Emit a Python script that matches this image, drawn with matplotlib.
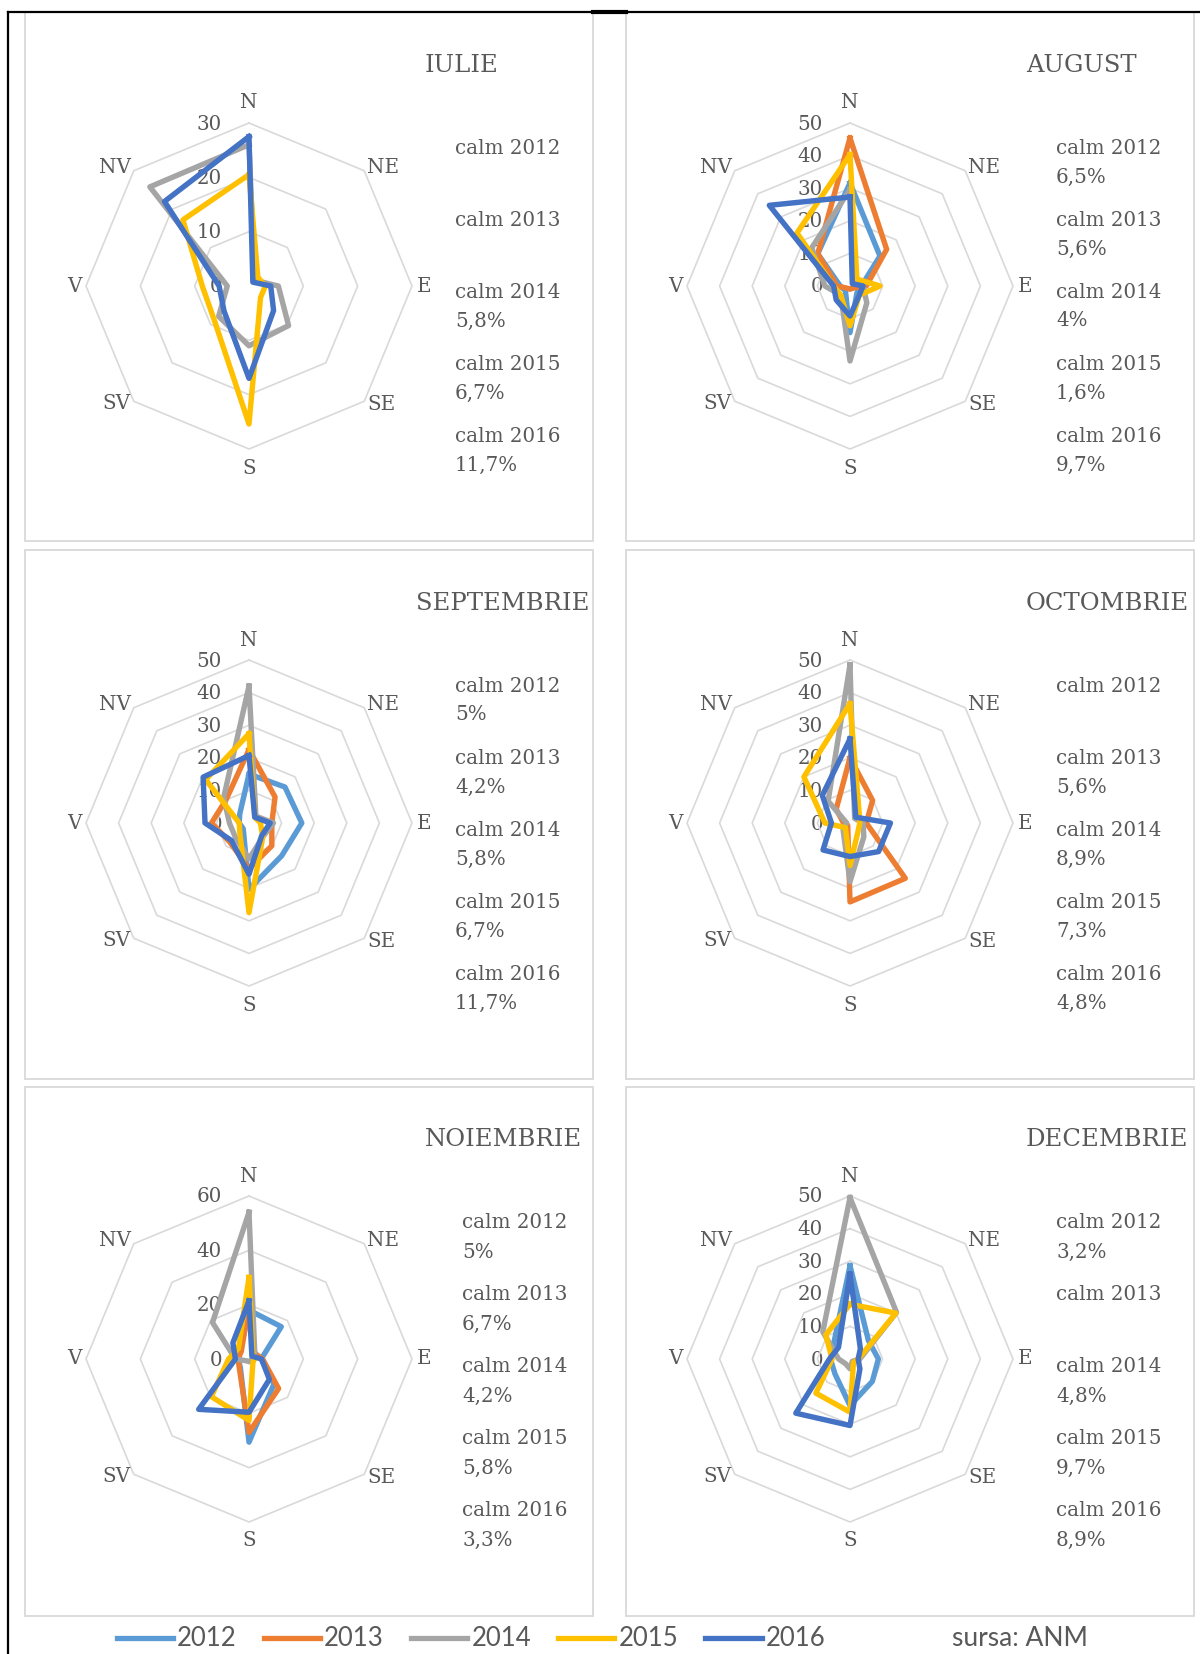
import numpy as np
import matplotlib
matplotlib.use('Agg')
import matplotlib.pyplot as plt
from matplotlib.patches import Rectangle
from matplotlib.lines import Line2D

# ---------------- data ----------------
directions = ['N', 'NE', 'E', 'SE', 'S', 'SV', 'V', 'NV']
years = ['2012', '2013', '2014', '2015', '2016']
colors = ['#5B9BD5', '#ED7D31', '#A5A5A5', '#FFC000', '#4472C4']
months = ['IULIE', 'AUGUST', 'SEPTEMBRIE', 'OCTOMBRIE', 'NOIEMBRIE', 'DECEMBRIE']
axis_max = [30, 50, 50, 50, 60, 50]
axis_step = [10, 10, 10, 10, 20, 10]

# frequencies (%) by direction N, NE, E, SE, S, SV, V, NV ; None = no data
iulie_2012 = None
iulie_2013 = None
iulie_2014 = [26, 1.5, 5.4, 10.3, 11, 7.9, 4, 25.8]
iulie_2015 = [20.5, 2.3, 3, 3, 25.4, 9, 8.6, 17.2]
iulie_2016 = [27.5, 1, 4, 6.4, 17, 6.5, 5.5, 22]

august_2012 = [31.6, 13, 3.5, 3, 14.3, 2, 3, 14]
august_2013 = [45.4, 15.9, 5, 1, 1, 1, 4, 14]
august_2014 = [29.6, 2, 4, 7.3, 23, 4, 7.7, 16.6]
august_2015 = [40.3, 3, 9.2, 4, 12.2, 4, 5, 23]
august_2016 = [27.3, 1, 4, 4, 9.2, 6, 5, 35]

septembrie_2012 = [15, 15.6, 16.2, 14.2, 20.3, 2.5, 3, 4]
septembrie_2013 = [22.5, 11.3, 7, 9.9, 14, 8.3, 11.5, 10]
septembrie_2014 = [42, 3, 7.5, 6, 11, 6, 6, 11]
septembrie_2015 = [27.4, 2.5, 3.5, 6, 27.5, 4, 3, 18.8]
septembrie_2016 = [20.7, 2.5, 6.5, 5.5, 15.7, 7.6, 13.5, 19.9]

octombrie_2012 = None
octombrie_2013 = [20, 9.8, 5, 24, 24.2, 1, 2, 6]
octombrie_2014 = [48.5, 2, 4, 6, 18, 3, 1, 9.5]
octombrie_2015 = [36.6, 4, 3, 3.5, 13, 2, 7.7, 20]
octombrie_2016 = [25.8, 2.5, 12.4, 12.4, 10.3, 11.7, 5.7, 12]

noiembrie_2012 = [18, 16.8, 4.5, 13, 30.6, 4.5, 4, 4.5]
noiembrie_2013 = [20, 3, 5, 15.4, 27, 5, 4, 4]
noiembrie_2014 = [54, 3, 1, 1, 1, 1, 5, 19]
noiembrie_2015 = [30, 2, 2, 2, 22.6, 19.6, 7.5, 5.5]
noiembrie_2016 = [21.4, 1.5, 4.6, 10.6, 19.6, 26.2, 5, 8.4]

decembrie_2012 = [28.6, 8, 8.7, 9.7, 14.3, 6.5, 6, 7]
decembrie_2013 = None
decembrie_2014 = [49.5, 20.2, 3, 1, 3, 2, 3.5, 11.8]
decembrie_2015 = [16.8, 19.9, 2.5, 1.5, 16.3, 14.8, 5.5, 10.5]
decembrie_2016 = [26, 4.5, 2.5, 4.3, 20.4, 23.5, 6.3, 5]

calm_iulie = ['', '', '5,8%', '6,7%', '11,7%']
calm_august = ['6,5%', '5,6%', '4%', '1,6%', '9,7%']
calm_septembrie = ['5%', '4,2%', '5,8%', '6,7%', '11,7%']
calm_octombrie = ['', '5,6%', '8,9%', '7,3%', '4,8%']
calm_noiembrie = ['5%', '6,7%', '4,2%', '5,8%', '3,3%']
calm_decembrie = ['3,2%', '', '4,8%', '9,7%', '8,9%']

series = [
    [iulie_2012, iulie_2013, iulie_2014, iulie_2015, iulie_2016],
    [august_2012, august_2013, august_2014, august_2015, august_2016],
    [septembrie_2012, septembrie_2013, septembrie_2014, septembrie_2015, septembrie_2016],
    [octombrie_2012, octombrie_2013, octombrie_2014, octombrie_2015, octombrie_2016],
    [noiembrie_2012, noiembrie_2013, noiembrie_2014, noiembrie_2015, noiembrie_2016],
    [decembrie_2012, decembrie_2013, decembrie_2014, decembrie_2015, decembrie_2016],
]
calms = [calm_iulie, calm_august, calm_septembrie, calm_octombrie, calm_noiembrie, calm_decembrie]

# ---------------- layout ----------------
W, H = 1200, 1654
TXT = '#595959'
GRID = '#D9D9D9'
SERIF = 'DejaVu Serif'
SMALL = 14.3

fig = plt.figure(figsize=(W / 100, H / 100), dpi=100)
fig.patch.set_facecolor('white')

panel_left = [25, 626]
panel_right = [593, 1194]
panel_top = [12, 550, 1087]
panel_bottom = [541, 1079, 1616]
center_x = [249, 850]
center_y = [286, 823, 1359]
R = 163

# outer black frame
fig.add_artist(Line2D([8 / W, 8 / W], [0, 1 - 12 / H], color='black', lw=1.6, transform=fig.transFigure))
fig.add_artist(Line2D([8 / W, 1], [1 - 12 / H, 1 - 12 / H], color='black', lw=1.6, transform=fig.transFigure))
fig.add_artist(Line2D([593 / W, 626 / W], [1 - 12 / H, 1 - 12 / H], color='black', lw=3.0, transform=fig.transFigure))

label_offsets = {'N': (0, 20), 'NE': (19, 3), 'E': (12, 0), 'SE': (17, -3),
                 'S': (0, -19), 'SV': (-17, -2), 'V': (-12, 0), 'NV': (-19, 3)}

angles = np.arange(len(directions)) * 2 * np.pi / len(directions)
angles_c = np.append(angles, angles[0])

for i, month in enumerate(months):
    r, c = divmod(i, 2)
    x0, x1 = panel_left[c], panel_right[c]
    y0, y1 = panel_top[r], panel_bottom[r]
    fig.add_artist(Rectangle((x0 / W, 1 - y1 / H), (x1 - x0) / W, (y1 - y0) / H,
                             transform=fig.transFigure, fill=False, ec=GRID, lw=1.3))

    cx, cy = center_x[c], center_y[r]
    ax = fig.add_axes([(cx - R) / W, 1 - (cy + R) / H, 2 * R / W, 2 * R / H], projection='polar')
    ax.set_theta_zero_location('N')
    ax.set_theta_direction(-1)
    ax.set_ylim(0, axis_max[i])
    ax.set_xticks([])
    ax.set_yticks([])
    ax.grid(False)
    ax.spines['polar'].set_visible(False)
    ax.patch.set_alpha(0)

    for v in np.arange(axis_step[i], axis_max[i] + 0.1, axis_step[i]):
        ax.plot(angles_c, [v] * len(angles_c), color=GRID, lw=1.2, zorder=1, clip_on=False)

    for j, vals in enumerate(series[i]):
        if vals is None:
            continue
        vc = list(vals) + [vals[0]]
        ax.plot(angles_c, vc, color=colors[j], lw=3.9, solid_joinstyle='round',
                zorder=2 + j, clip_on=False)

    for k, d in enumerate(directions):
        ax.annotate(d, xy=(angles[k], axis_max[i]), xytext=label_offsets[d],
                    textcoords='offset pixels', ha='center', va='center',
                    fontsize=SMALL, color=TXT, family=SERIF, annotation_clip=False)
    for v in np.arange(0, axis_max[i] + 0.1, axis_step[i]):
        ax.annotate(str(int(v)), xy=(0, v), xytext=(-27, -1), textcoords='offset pixels',
                    ha='right', va='center', fontsize=SMALL, color=TXT, family=SERIF,
                    annotation_clip=False, zorder=0)

    # title
    tx = x0 + (391 if month == 'SEPTEMBRIE' else 400)
    fig.text(tx / W, 1 - (y0 + 53) / H, month, ha='left', va='center',
             fontsize=17.5, color=TXT, family=SERIF)

    # calm texts
    calm_x = x0 + (437 if i == 4 else 430)
    for j, yr in enumerate(years):
        yy = y0 + 136 + 72 * j
        fig.text(calm_x / W, 1 - yy / H, 'calm ' + yr, ha='left', va='center',
                 fontsize=SMALL, color=TXT, family=SERIF)
        if calms[i][j]:
            fig.text(calm_x / W, 1 - (yy + 29) / H, calms[i][j], ha='left', va='center',
                     fontsize=SMALL, color=TXT, family=SERIF)

handles = [Line2D([], [], color=col, lw=3.8) for col in colors]
fig.legend(handles, years, loc='center', bbox_to_anchor=(471 / W, 1 - 1639 / H), ncol=5,
           frameon=False, prop={'family': 'Lato', 'size': 18.5}, handlelength=2.2,
           handletextpad=0.15, columnspacing=1.05, labelcolor=TXT, borderpad=0, borderaxespad=0)
fig.text(952 / W, 1 - 1639 / H, 'sursa: ANM', ha='left', va='center',
         fontsize=19, color=TXT, family='Lato')

fig.savefig('out.png', dpi=100, facecolor='white')
